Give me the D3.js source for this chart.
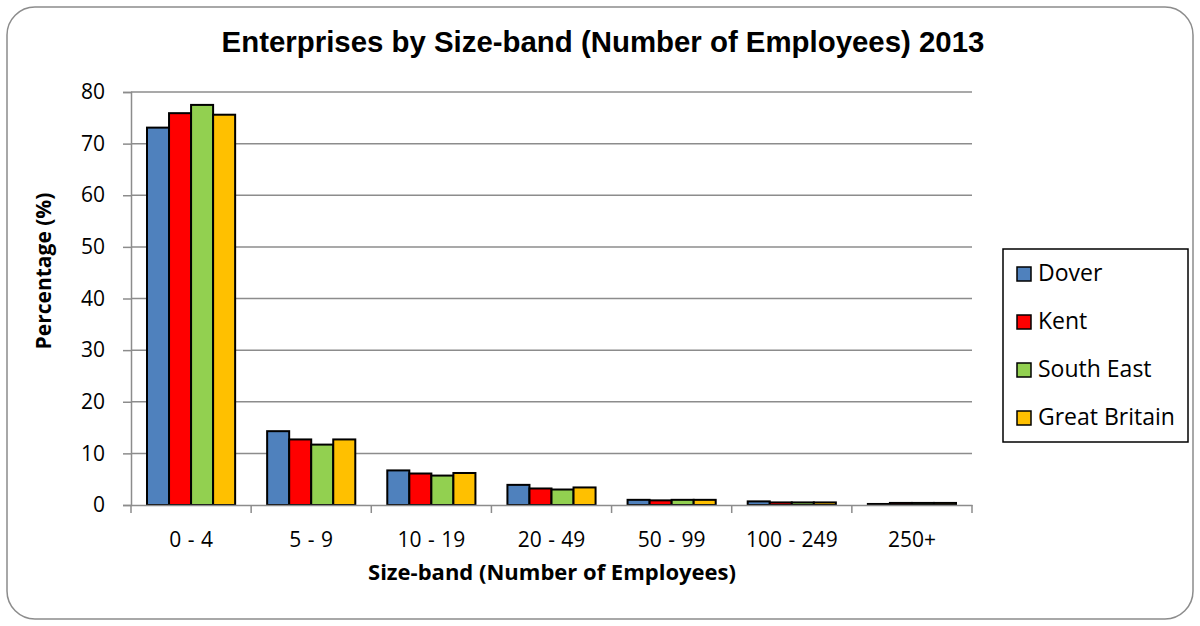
<!DOCTYPE html>
<html>
<head>
<meta charset="utf-8">
<script src="https://cdn.jsdelivr.net/npm/d3@7"></script>
<style>
body { margin: 0; background: #fff; }
svg text { font-family: "Open Sans", Lato, sans-serif; }
</style>
</head>
<body>
<svg id="chart" width="1200" height="626"></svg>
<script>
var categories = ['0 - 4', '5 - 9', '10 - 19', '20 - 49', '50 - 99', '100 - 249', '250+'];
var seriesNames = ['Dover', 'Kent', 'South East', 'Great Britain'];
var colors = ['#4f81bd', '#ff0000', '#92d050', '#ffc000'];
var dover = [73.1, 14.3, 6.7, 3.9, 1.0, 0.7, 0.2];
var kent = [75.9, 12.7, 6.1, 3.2, 0.9, 0.5, 0.4];
var southEast = [77.5, 11.7, 5.7, 3.0, 1.0, 0.5, 0.4];
var greatBritain = [75.6, 12.7, 6.2, 3.4, 1.0, 0.5, 0.4];
var yTicks = [0, 10, 20, 30, 40, 50, 60, 70, 80];

var values = [dover, kent, southEast, greatBritain];
var svg = d3.select('#chart');
var grid = '#8c8c8c';
var font = '"Open Sans", sans-serif';

svg.append('rect')
    .attr('x', 7).attr('y', 7)
    .attr('width', 1186).attr('height', 612)
    .attr('rx', 28).attr('ry', 28)
    .attr('fill', '#fff')
    .attr('stroke', '#8c8c8c')
    .attr('stroke-width', 1.5);

var plotLeft = 131, plotRight = 972, plotTop = 92, plotBottom = 505;
var x = d3.scaleBand().domain(categories).range([plotLeft, plotRight]);
// bars fill 88/120 of each band
var inner = d3.scaleBand().domain(seriesNames).range([16, x.bandwidth() - 16]);
var y = d3.scaleLinear().domain([0, 80]).range([plotBottom, plotTop]);

// gridlines
svg.append('g').selectAll('line').data(yTicks.slice(1)).enter().append('line')
    .attr('x1', plotLeft).attr('x2', plotRight)
    .attr('y1', function (d) { return y(d); })
    .attr('y2', function (d) { return y(d); })
    .attr('stroke', grid).attr('stroke-width', 1.5);

// y axis
var yAxis = svg.append('g').attr('transform', 'translate(' + plotLeft + ',0)')
    .call(d3.axisLeft(y).tickValues(yTicks).tickSize(8).tickPadding(18));
yAxis.select('.domain').attr('stroke', grid).attr('stroke-width', 1.5);
yAxis.selectAll('.tick line').attr('stroke', grid).attr('stroke-width', 1.5);
yAxis.selectAll('text').attr('fill', '#000')
    .style('font-size', '21px').style('font-family', font);

// bars
var groups = svg.append('g').selectAll('g').data(categories).enter().append('g')
    .attr('transform', function (d) { return 'translate(' + x(d) + ',0)'; });
groups.selectAll('rect')
    .data(function (d, i) {
        return seriesNames.map(function (s, j) { return { s: s, v: values[j][i], c: colors[j] }; });
    })
    .enter().append('rect')
    .attr('x', function (d) { return inner(d.s); })
    .attr('width', inner.bandwidth())
    .attr('y', function (d) { return y(d.v); })
    .attr('height', function (d) { return plotBottom - y(d.v); })
    .attr('fill', function (d) { return d.c; })
    .attr('stroke', '#000')
    .attr('stroke-width', 2);

// x axis
var xAxis = svg.append('g').attr('transform', 'translate(0,' + plotBottom + ')')
    .call(d3.axisBottom(x).tickSize(0).tickPadding(27));
xAxis.select('.domain').attr('stroke', grid).attr('stroke-width', 1.5);
xAxis.selectAll('text').attr('fill', '#000')
    .style('font-size', '21px').style('font-family', font)
    .style('word-spacing', '1px');
svg.append('g').selectAll('line').data(d3.range(categories.length + 1)).enter().append('line')
    .attr('x1', function (i) { return plotLeft + i * x.step(); })
    .attr('x2', function (i) { return plotLeft + i * x.step(); })
    .attr('y1', plotBottom).attr('y2', plotBottom + 8)
    .attr('stroke', grid).attr('stroke-width', 1.5);

// titles
svg.append('text')
    .attr('x', 603).attr('y', 52)
    .attr('text-anchor', 'middle')
    .style('font-family', '"Liberation Sans", Arial, sans-serif')
    .style('font-weight', 'bold').style('font-size', '29.4px')
    .text('Enterprises by Size-band (Number of Employees) 2013');
svg.append('text')
    .attr('x', 552).attr('y', 580)
    .attr('text-anchor', 'middle')
    .style('font-weight', 'bold').style('font-size', '22px')
    .text('Size-band (Number of Employees)');
svg.append('text')
    .attr('transform', 'translate(51,271) rotate(-90)')
    .attr('text-anchor', 'middle')
    .style('font-weight', 'bold').style('font-size', '21px')
    .text('Percentage (%)');

// legend
var legend = svg.append('g');
legend.append('rect')
    .attr('x', 1003).attr('y', 249).attr('width', 185).attr('height', 193)
    .attr('fill', '#fff').attr('stroke', '#000').attr('stroke-width', 1.5);
var items = legend.selectAll('g.item').data(seriesNames).enter().append('g')
    .attr('class', 'item')
    .attr('transform', function (d, i) { return 'translate(1017,' + (274 + i * 48) + ')'; });
items.append('rect')
    .attr('x', 0).attr('y', -7).attr('width', 14).attr('height', 14)
    .attr('fill', function (d, i) { return colors[i]; })
    .attr('stroke', '#000').attr('stroke-width', 1.5);
items.append('text')
    .attr('x', 21).attr('y', 7)
    .style('font-size', '23px')
    .text(function (d) { return d; });
</script>
</body>
</html>
